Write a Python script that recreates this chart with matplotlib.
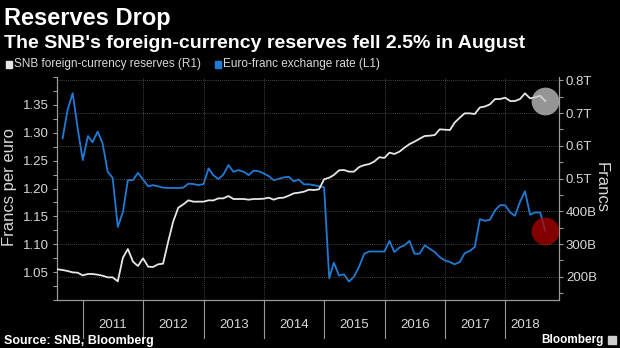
import numpy as np
import pandas as pd
import matplotlib
matplotlib.use("Agg")
import matplotlib.pyplot as plt
import matplotlib.dates as mdates
import matplotlib.ticker as mticker
from matplotlib.patches import Rectangle

plt.rcParams["font.family"] = ["Liberation Sans", "DejaVu Sans"]

# month-end reserves (CHF bn), Jul 2010 .. Aug 2018
reserves = [
    222.7, 220.6, 217.5, 213.4, 212.4, 204.2, 208.4, 208.4, 206.3, 203.2,
    198.2, 198.2, 186.0, 258.2, 284.7, 246.0, 232.8, 256.3, 230.7, 229.8,
    238.0, 239.9, 307.0, 368.0, 410.8, 421.0, 433.4, 429.3, 429.3, 429.3,
    433.4, 433.0, 439.4, 439.4, 446.6, 437.4, 437.4, 437.4, 435.4, 437.4,
    437.4, 438.4, 441.5, 435.4, 440.5, 441.5, 447.6, 454.7, 456.7, 459.8,
    465.9, 464.9, 467.0, 497.5, 502.6, 510.7, 525.0, 526.0, 521.0, 521.0,
    535.0, 541.0, 544.0, 552.0, 565.0, 563.0, 579.0, 575.0, 582.0, 594.0,
    605.0, 612.5, 621.6, 629.8, 630.8, 632.8, 650.2, 649.1, 648.1, 670.5,
    685.7, 699.0, 699.0, 697.0, 717.0, 720.0, 726.5, 742.7, 742.7, 746.8,
    736.6, 736.6, 742.7, 760.1, 744.8, 747.8, 752.9, 736.6,
]

# month-end EUR/CHF, Aug 2010 .. Aug 2018
eurchf = [
    1.290, 1.341, 1.371, 1.308, 1.251, 1.294, 1.283, 1.302, 1.281, 1.230,
    1.219, 1.131, 1.158, 1.215, 1.215, 1.228, 1.216, 1.204, 1.206, 1.204,
    1.2015, 1.201, 1.201, 1.201, 1.2015, 1.2086, 1.208, 1.206, 1.208, 1.236,
    1.224, 1.217, 1.225, 1.242, 1.230, 1.233, 1.230, 1.224, 1.232, 1.231,
    1.227, 1.222, 1.215, 1.217, 1.220, 1.221, 1.213, 1.216, 1.2075, 1.2075,
    1.206, 1.204, 1.202, 1.039, 1.067, 1.044, 1.046, 1.033, 1.042, 1.060,
    1.083, 1.087, 1.087, 1.087, 1.087, 1.106, 1.086, 1.094, 1.098, 1.106,
    1.083, 1.083, 1.098, 1.092, 1.086, 1.077, 1.071, 1.068, 1.064, 1.068,
    1.084, 1.088, 1.095, 1.145, 1.142, 1.144, 1.161, 1.170, 1.170, 1.157,
    1.151, 1.176, 1.195, 1.153, 1.157, 1.157, 1.124,
]

years = [2011, 2012, 2013, 2014, 2015, 2016, 2017, 2018]
grid_years = [2012, 2013, 2014, 2016, 2017, 2018]
left_ticks = [1.05, 1.10, 1.15, 1.20, 1.25, 1.30, 1.35]
right_ticks = [200, 300, 400, 500, 600, 700, 800]

dates = pd.date_range("2010-07-31", "2018-08-31", freq="ME")
res_s = pd.Series(reserves, index=dates)
fx_s = pd.Series(eurchf, index=dates[1:])

BG = "black"
TXT = "#d8d8d8"
SPINE = "#9a9a9a"
GRID = "#5a5a5a"
BLUE = "#1f7bd6"
WHITE = "#e6e6e6"

fig = plt.figure(figsize=(6.2, 3.48), dpi=100, facecolor=BG)
ax = fig.add_axes([57 / 620, 48 / 348, 502 / 620, 223 / 348], facecolor=BG)
ax2 = ax.twinx()

ax.plot(fx_s.index, fx_s.values, color=BLUE, lw=1.3, zorder=3)
ax2.plot(res_s.index, res_s.values, color=WHITE, lw=1.3, zorder=3)

# highlight the latest readings
ax2.scatter([res_s.index[-1]], [res_s.values[-1]], s=400, color="#c8c8c8",
            alpha=0.75, lw=0, zorder=5)
ax.scatter([fx_s.index[-1]], [fx_s.values[-1]], s=400, color="#b00000",
           alpha=0.75, lw=0, zorder=5)

ax.set_xlim(pd.Timestamp("2010-07-28"), pd.Timestamp("2018-11-22"))
ax.set_ylim(1.0, 1.40)
ax2.set_ylim(129, 810)

# left axis: exchange rate
ax.yaxis.set_major_locator(mticker.FixedLocator(left_ticks))
ax.yaxis.set_minor_locator(mticker.MultipleLocator(0.025))
ax.yaxis.set_major_formatter(mticker.FormatStrFormatter("%.2f"))
ax.tick_params(axis="y", which="both", colors=SPINE, labelcolor=TXT,
               labelsize=9.5, length=3, width=0.8, pad=3)

# right axis: reserves
def fmt_res(v, pos):
    if v >= 500:
        return f"{v / 1000:.1f}T"
    return f"{int(v)}B"

ax2.yaxis.set_major_locator(mticker.FixedLocator(right_ticks))
ax2.yaxis.set_minor_locator(mticker.MultipleLocator(50))
ax2.yaxis.set_major_formatter(mticker.FuncFormatter(fmt_res))
ax2.tick_params(axis="y", which="both", colors=SPINE, labelcolor=TXT,
                labelsize=9.5, length=3, width=0.8, pad=2)

ax.set_xticks([])
ax2.set_xticks([])

for a in (ax, ax2):
    a.spines["top"].set_visible(False)
    for side in ("left", "right", "bottom"):
        a.spines[side].set_color(SPINE)
        a.spines[side].set_linewidth(0.8)

# dotted grid
for v in right_ticks:
    ax2.axhline(v, color=GRID, lw=0.6, ls=(0, (1, 1.5)), zorder=1)
for y in grid_years:
    ax.axvline(pd.Timestamp(f"{y}-01-01"), color=GRID, lw=0.6,
               ls=(0, (1, 1.5)), zorder=1)

# year separators and labels below the axis
trans = ax.get_xaxis_transform()
for y in years:
    start = pd.Timestamp(f"{y}-01-01")
    end = pd.Timestamp(f"{y + 1}-01-01") if y < years[-1] else dates[-1]
    ax.plot([start, start], [0, -0.17], color=SPINE, lw=0.8,
            transform=trans, clip_on=False)
    mid = start + (end - start) / 2
    ax.text(mid, -0.112, str(y), transform=trans, ha="center", va="center",
            color=TXT, fontsize=9.5)

# axis titles
fig.text(10 / 620, 1 - 187 / 348, "Francs per euro", rotation=90,
         ha="center", va="center", color=TXT, fontsize=12)
fig.text(601 / 620, 1 - 187 / 348, "Francs", rotation=-90,
         ha="center", va="center", color=TXT, fontsize=12)

# headline
fig.text(4 / 620, 1 - 18 / 348, "Reserves Drop", ha="left", va="center",
         color="white", fontsize=17, fontweight="bold")
fig.text(4 / 620, 1 - 44 / 348,
         "The SNB's foreign-currency reserves fell 2.5% in August",
         ha="left", va="center", color="white", fontsize=14, fontweight="bold")

# legend
fig.patches.append(Rectangle((6 / 620, 1 - 67.5 / 348), 6 / 620, 6 / 348,
                             transform=fig.transFigure, color=WHITE))
fig.text(14 / 620, 1 - 64.5 / 348, "SNB foreign-currency reserves (R1)",
         ha="left", va="center", color=TXT, fontsize=8.5)
fig.patches.append(Rectangle((215 / 620, 1 - 67.5 / 348), 6 / 620, 6 / 348,
                             transform=fig.transFigure, color=BLUE))
fig.text(223 / 620, 1 - 64.5 / 348, "Euro-franc exchange rate (L1)",
         ha="left", va="center", color=TXT, fontsize=8.5)

# footer
fig.text(4 / 620, 1 - 341 / 348, "Source: SNB, Bloomberg", ha="left",
         va="center", color="white", fontsize=9, fontweight="bold")
fig.text(604 / 620, 1 - 340 / 348, "Bloomberg", ha="right", va="center",
         color="white", fontsize=8.5, fontweight="bold")
fig.patches.append(Rectangle((608 / 620, 1 - 344 / 348), 8 / 620, 8 / 348,
                             transform=fig.transFigure, color="#cfcfcf"))

fig.savefig("out.png", dpi=100, facecolor=BG)
